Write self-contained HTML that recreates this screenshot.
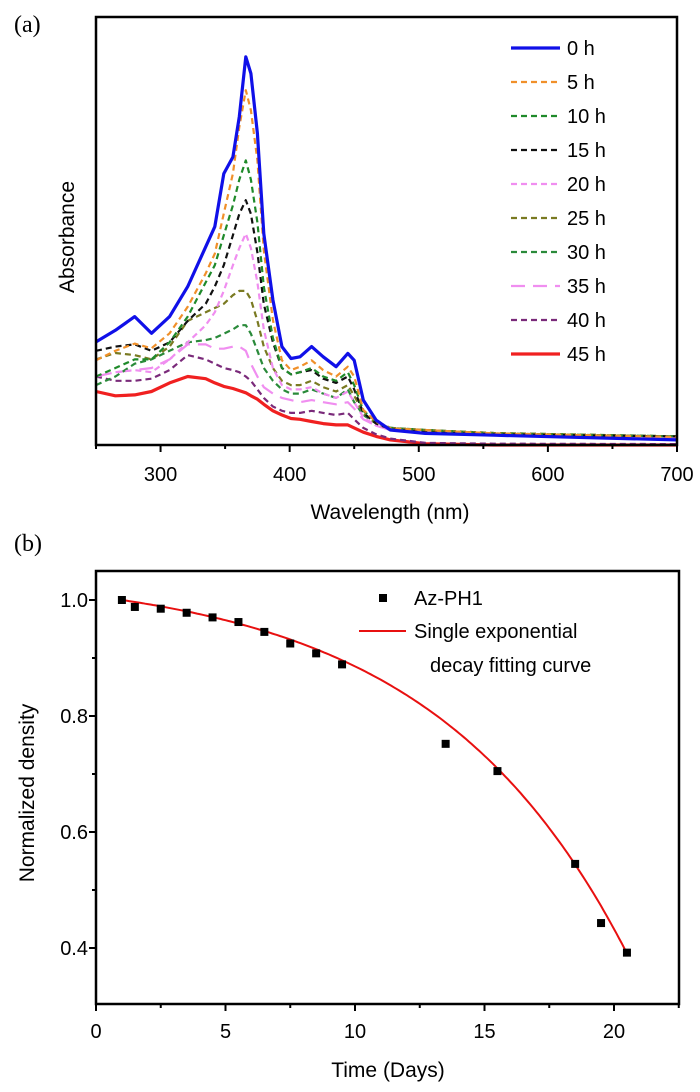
<!DOCTYPE html>
<html><head><meta charset="utf-8"><style>
html,body{margin:0;padding:0;background:#fff;}
svg{display:block;font-family:"Liberation Sans",sans-serif;}
</style></head><body>
<svg id="fig" width="700" height="1092" viewBox="0 0 700 1092">
<text x="14" y="32" font-family="Liberation Serif,serif" font-size="24">(a)</text>
<text x="14" y="551" font-family="Liberation Serif,serif" font-size="24">(b)</text>
<g id="ga"></g>
<g id="gb"></g>
</svg>
<script>
// ---- Panel (a) data ----
const wavelengths=[250,265,280,293,307,321,335,342,349,356,361,366,370,375,380,387,394,401,408,417,426,436,445,450,457,467,478,505,558,700];
const seriesNames=["0 h","5 h","10 h","15 h","20 h","25 h","30 h","35 h","40 h","45 h"];
const s0=[.241,.268,.300,.261,.300,.370,.463,.510,.634,.673,.767,.907,.868,.728,.494,.339,.230,.202,.206,.230,.206,.183,.214,.198,.105,.058,.035,.027,.023,.012];
const s5=[.198,.22,.237,.226,.261,.323,.401,.447,.541,.634,.743,.829,.782,.665,.455,.292,.198,.175,.183,.198,.175,.160,.183,.16,.082,.054,.039,.035,.027,.019];
const s10=[.16,.18,.20,.20,.24,.30,.38,.42,.49,.56,.62,.665,.62,.52,.37,.25,.18,.165,.17,.18,.16,.15,.17,.14,.08,.055,.04,.035,.027,.02];
const s15=[.22,.23,.235,.22,.24,.29,.33,.37,.42,.49,.54,.572,.54,.45,.33,.24,.18,.165,.17,.175,.155,.145,.16,.13,.075,.05,.037,.03,.025,.02];
const s20=[.16,.17,.175,.17,.2,.24,.28,.31,.36,.42,.46,.494,.46,.38,.27,.18,.14,.13,.13,.135,.12,.11,.125,.1,.065,.045,.035,.03,.025,.015];
const s25=[.2,.215,.21,.2,.23,.29,.31,.32,.33,.35,.36,.36,.34,.29,.23,.18,.15,.14,.14,.15,.135,.125,.14,.115,.075,.05,.04,.035,.028,.02];
const s30=[.14,.16,.19,.2,.22,.24,.245,.25,.26,.27,.28,.28,.26,.22,.18,.15,.13,.12,.12,.13,.12,.11,.13,.1,.07,.05,.04,.035,.028,.02];
const s35=[.16,.17,.175,.18,.2,.235,.235,.225,.225,.23,.23,.22,.19,.16,.135,.12,.11,.105,.1,.105,.1,.095,.1,.085,.06,.045,.035,.03,.025,.015];
const s40=[.16,.15,.15,.155,.175,.21,.2,.19,.18,.175,.17,.16,.15,.13,.11,.09,.08,.075,.075,.08,.075,.07,.075,.06,.04,.025,.015,.005,.003,.002];
const s45=[.125,.115,.117,.125,.145,.16,.155,.145,.137,.132,.127,.122,.115,.107,.095,.08,.07,.062,.06,.055,.05,.047,.047,.04,.03,.02,.012,.003,0,0];
const wlTicks=[300,400,500,600,700];
// ---- Panel (b) data ----
const days=[1,1.5,2.5,3.5,4.5,5.5,6.5,7.5,8.5,9.5,13.5,15.5,18.5,19.5,20.5];
const density=[1.0,0.988,0.985,0.978,0.97,0.962,0.945,0.925,0.908,0.889,0.752,0.705,0.545,0.443,0.392];
const fitParams=[1.05,0.0438,7.56];
const dayTicks=[0,5,10,15,20];
const densTicks=[0.4,0.6,0.8,1.0];

const NS="http://www.w3.org/2000/svg";
function mk(p,t,a){const e=document.createElementNS(NS,t);for(const k in a)e.setAttribute(k,a[k]);p.appendChild(e);return e;}

// Panel a
const ga=document.getElementById('ga');
const aL=96,aR=677,aT=17,aB=445;
const ax=w=>aL+(w-250)/450*(aR-aL);
const ay=v=>aB-v*(aB-aT)/1.0;
const styles=[
 {c:"#1010e8",w:3.2,d:""},{c:"#f0902a",w:2.2,d:"6,4"},{c:"#1f8a2a",w:2.2,d:"6,4"},{c:"#111",w:2.2,d:"6,4"},
 {c:"#f08ef0",w:2.2,d:"6,4"},{c:"#7a7a22",w:2.2,d:"6,4"},{c:"#2a8a3a",w:2.2,d:"6,4"},{c:"#f08ef0",w:2.2,d:"14,8"},
 {c:"#7a2a7a",w:2.2,d:"6,4"},{c:"#f02020",w:3.2,d:""}];
const allS=[s0,s5,s10,s15,s20,s25,s30,s35,s40,s45];
for(let i=allS.length-1;i>=0;i--){
  const s=allS[i];let d="";
  s.forEach((v,j)=>{d+=(j?"L":"M")+ax(wavelengths[j]).toFixed(1)+","+ay(v).toFixed(1);});
  const p=mk(ga,'path',{d:d,fill:"none",stroke:styles[i].c,"stroke-width":styles[i].w,"stroke-dasharray":styles[i].d,"stroke-linejoin":"round"});
  
  
  const ly=48+i*34;
  const ll=mk(ga,'line',{x1:511,x2:560,y1:ly,y2:ly,stroke:styles[i].c,"stroke-width":styles[i].w,"stroke-dasharray":styles[i].d});
  
  
  const lt=mk(ga,'text',{x:567,y:ly+7,"font-size":20});
  lt.textContent=seriesNames[i];
  
  
}
const fa=mk(ga,'rect',{x:aL,y:aT,width:aR-aL,height:aB-aT,fill:"none",stroke:"#000","stroke-width":2.5});


for(let w=250;w<=700;w+=50){
  const major=w%100===0;
  mk(ga,'line',{x1:ax(w),x2:ax(w),y1:aB,y2:aB+(major?7:4),stroke:"#000","stroke-width":2});
}
wlTicks.forEach(w=>{const t=mk(ga,'text',{x:ax(w),y:481,"font-size":20,"text-anchor":"middle"});t.textContent=w;
  
  });
const xa=mk(ga,'text',{x:390,y:519,"font-size":21,"text-anchor":"middle"});xa.textContent="Wavelength (nm)";


const ya=mk(ga,'text',{x:0,y:0,"font-size":21,"text-anchor":"middle",transform:"translate(74,237) rotate(-90)"});ya.textContent="Absorbance";



// Panel b
const gb=document.getElementById('gb');
const bL=96,bR=679,bT=571,bB=1004;
const bx=t=>bL+t*(614-96)/20;
const by=v=>948-(v-0.4)*(948-600)/0.6;
const fb=mk(gb,'rect',{x:bL,y:bT,width:bR-bL,height:bB-bT,fill:"none",stroke:"#000","stroke-width":2.5});


for(let t=0;t<=22.5;t+=2.5){const m=t%5===0;mk(gb,'line',{x1:bx(t),x2:bx(t),y1:bB,y2:bB+(m?7:4),stroke:"#000","stroke-width":2});}
for(let v=0.4;v<=1.05;v+=0.1){const m=Math.round(v*10)%2===0;mk(gb,'line',{x1:bL,x2:bL-(m?7:4),y1:by(v),y2:by(v),stroke:"#000","stroke-width":2});}
dayTicks.forEach(t=>{const e=mk(gb,'text',{x:bx(t),y:1038,"font-size":20,"text-anchor":"middle"});e.textContent=t;
  
  });
densTicks.forEach(v=>{const e=mk(gb,'text',{x:88,y:by(v)+7,"font-size":20,"text-anchor":"end"});e.textContent=v.toFixed(1);
  
  });
const xb=mk(gb,'text',{x:388,y:1077,"font-size":21,"text-anchor":"middle"});xb.textContent="Time (Days)";


const yb=mk(gb,'text',{x:0,y:0,"font-size":21,"text-anchor":"middle",transform:"translate(34,793) rotate(-90)"});yb.textContent="Normalized density";


let fd="";
for(let t=days[0];t<=days[days.length-1]+0.001;t+=0.1){const v=fitParams[0]-fitParams[1]*Math.exp(t/fitParams[2]);fd+=(fd?"L":"M")+bx(t).toFixed(1)+","+by(v).toFixed(1);}
const fc=mk(gb,'path',{d:fd,fill:"none",stroke:"#e81010","stroke-width":2});


days.forEach((t,i)=>{const r=mk(gb,'rect',{x:bx(t)-4,y:by(density[i])-4,width:8,height:8,fill:"#000"});
  
  });
const lm=mk(gb,'rect',{x:379,y:594,width:8,height:8,fill:"#000"});


const l1=mk(gb,'text',{x:414,y:605,"font-size":20});l1.textContent="Az-PH1";


const ll2=mk(gb,'line',{x1:359,x2:406,y1:631,y2:631,stroke:"#e81010","stroke-width":2});


const l2=mk(gb,'text',{x:414,y:638,"font-size":20});l2.textContent="Single exponential";


const l3=mk(gb,'text',{x:430,y:672,"font-size":20});l3.textContent="decay fitting curve";


</script>
</body></html>
